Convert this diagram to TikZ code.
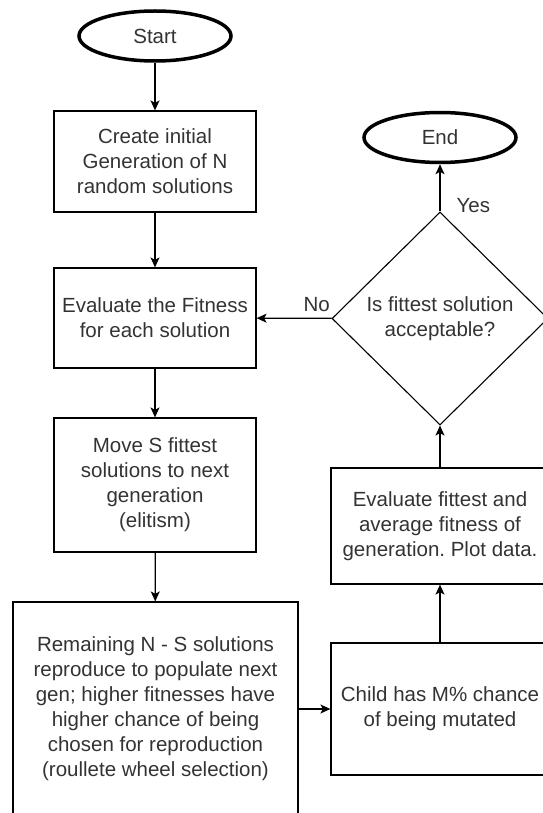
\documentclass[tikz,border=0pt]{standalone}
\usepackage{fontspec}
\setmainfont{Liberation Sans}
\frenchspacing
\usetikzlibrary{shapes.geometric,arrows.meta}
\definecolor{txtgray}{HTML}{333333}
\begin{document}
\begin{tikzpicture}[x=1pt,y=-1pt,inner sep=0pt,
  font=\fontsize{20.5}{25}\selectfont,text=txtgray,
  term/.style={ellipse,draw,line width=3.5pt,minimum width=152pt,minimum height=50pt},
  stepbox/.style={rectangle,draw,line width=1.2pt,align=center},
  decide/.style={diamond,draw,line width=1.1pt,align=center,minimum width=216pt,minimum height=213pt},
  flow/.style={-{Stealth[length=10pt,width=9pt,inset=2.5pt]},line width=1.2pt}]
\useasboundingbox (0,0) rectangle (542,813);
\node[term] (start) at (155,36) {Start};
\node[stepbox,minimum width=202pt,minimum height=101pt] (init) at (155,161.5) {Create initial\\Generation of N\\random solutions};
\node[stepbox,minimum width=202pt,minimum height=100pt] (evalfit) at (155,318) {Evaluate the Fitness\\for each solution};
\node[stepbox,minimum width=202pt,minimum height=134pt] (elite) at (155,485) {Move S fittest\\solutions to next\\generation\\(elitism)};
\node[stepbox,minimum width=285pt,minimum height=214pt] (reprod) at (155.5,709) {Remaining N - S solutions\\reproduce to populate next\\gen; higher fitnesses have\\higher chance of being\\chosen for reproduction\\(roullete wheel selection)};
\node[stepbox,minimum width=218pt,minimum height=132pt] (mutate) at (440,709) {Child has M\% chance\\of being mutated};
\node[stepbox,minimum width=218pt,minimum height=116pt] (plot) at (440,526) {Evaluate fittest and\\average fitness of\\generation. Plot data.};
\node[decide] (accept) at (440,318.5) {Is fittest solution\\acceptable?};
\node[term] (end) at (440,137.5) {End};
\draw[flow] (start) -- (init);
\draw[flow] (init) -- (evalfit);
\draw[flow] (evalfit) -- (elite);
\draw[flow] (elite) -- (reprod);
\draw[flow] (reprod) -- (mutate);
\draw[flow] (mutate) -- (plot);
\draw[flow] (plot) -- (accept);
\draw[flow] (accept) -- node[pos=0.12,anchor=west,xshift=16pt] {Yes} (end);
\draw[flow] (accept) -- node[pos=0.2,anchor=south,yshift=6pt] {No} (evalfit);
\end{tikzpicture}
\end{document}
